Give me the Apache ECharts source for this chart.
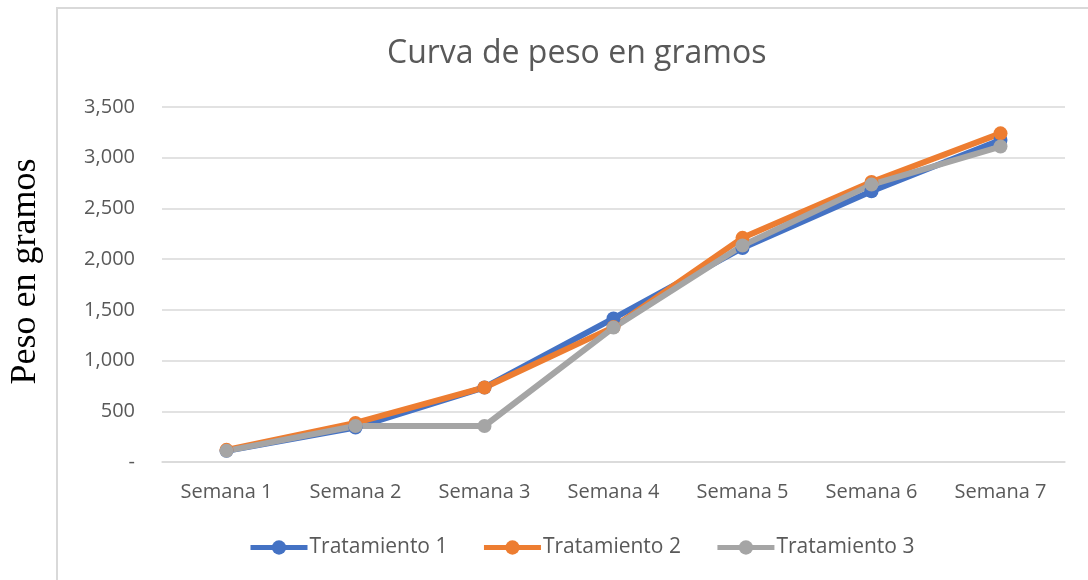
<!DOCTYPE html>
<html>
<head>
<meta charset="utf-8">
<script src="https://cdn.jsdelivr.net/npm/echarts@6/dist/echarts.min.js"></script>
<style>
  html, body { margin: 0; padding: 0; background: #fff; }
  #chart { width: 1088px; height: 580px; }
</style>
</head>
<body>
<div id="chart"></div>
<script>
const semanas = ['Semana 1', 'Semana 2', 'Semana 3', 'Semana 4', 'Semana 5', 'Semana 6', 'Semana 7'];
const tratamiento1 = [110, 340, 735, 1415, 2110, 2670, 3175];
const tratamiento2 = [120, 385, 735, 1330, 2210, 2760, 3240];
const tratamiento3 = [110, 355, 355, 1325, 2135, 2735, 3110];
const yTicks = [0, 500, 1000, 1500, 2000, 2500, 3000, 3500];

const chart = echarts.init(document.getElementById('chart'));

// estilo de cada serie
function serie(name, data, color) {
    return {
        name: name,
        type: 'line',
        data: data,
        symbol: 'circle',
        symbolSize: 14,
        color: color,
        lineStyle: { width: 6, color: color },
        itemStyle: { color: color }
    };
}

const options = {
    animation: false,
    textStyle: { fontFamily: '"Open Sans", "Noto Sans", sans-serif' },
    title: {
        text: 'Curva de peso en gramos',
        left: 382,
        top: 33,
        textStyle: { fontSize: 32, fontWeight: 'normal', color: '#595959', fontFamily: '"Open Sans", sans-serif' }
    },
    graphic: [
        {
            type: 'rect',
            shape: { x: 57, y: 8, width: 1100, height: 620 },
            style: { fill: 'none', stroke: '#d9d9d9', lineWidth: 2 },
            silent: true
        }
    ],
    legend: {
        top: 532,
        left: 243,
        itemWidth: 57,
        itemHeight: 18,
        itemGap: 34,
        lineStyle: { width: 5 },
        textStyle: { fontSize: 21, color: '#595959', padding: [0, 0, 0, -3] },
        data: ['Tratamiento 1', 'Tratamiento 2', 'Tratamiento 3']
    },
    grid: { left: 162, right: 23, top: 107, bottom: 118 },
    xAxis: {
        type: 'category',
        data: semanas,
        boundaryGap: true,
        axisLine: { show: true, lineStyle: { color: '#d9d9d9', width: 1.5 } },
        axisTick: { show: false },
        axisLabel: { fontSize: 20, color: '#595959', margin: 20 }
    },
    yAxis: {
        type: 'value',
        min: yTicks[0],
        max: yTicks[yTicks.length - 1],
        interval: 500,
        name: 'Peso en gramos',
        nameLocation: 'middle',
        nameGap: 118,
        nameRotate: 90,
        nameTextStyle: { fontSize: 36, color: '#000', fontFamily: '"Liberation Serif", "DejaVu Serif", serif', padding: [0, 0, 0, 26] },
        axisLine: { show: false },
        axisTick: { show: false },
        axisLabel: {
            fontSize: 20,
            color: '#595959',
            margin: 27,
            formatter: function (v) { return v === 0 ? '-' : v.toLocaleString('en-US'); }
        },
        splitLine: { lineStyle: { color: '#d9d9d9', width: 1.5 } }
    },
    series: [
        serie('Tratamiento 1', tratamiento1, '#4472C4'),
        serie('Tratamiento 2', tratamiento2, '#ED7D31'),
        serie('Tratamiento 3', tratamiento3, '#A5A5A5')
    ]
};

chart.setOption(options);
</script>
</body>
</html>
